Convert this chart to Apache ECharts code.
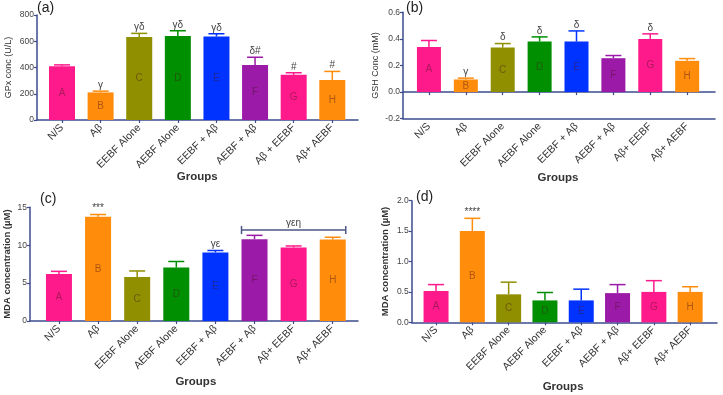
<!DOCTYPE html>
<html>
<head>
<meta charset="utf-8">
<script src="https://cdn.jsdelivr.net/npm/echarts@6/dist/echarts.min.js"></script>
<style>
html, body { margin: 0; padding: 0; background: #fff; }
#main { width: 723px; height: 395px; }
</style>
</head>
<body>
<div id="main"></div>
<script>
// groups on the x axis
var groups = ['N/S', 'Aβ', 'EEBF Alone', 'AEBF Alone', 'EEBF + Aβ', 'AEBF + Aβ', 'Aβ+ EEBF', 'Aβ+ AEBF'];
var groupsA = ['N/S', 'Aβ', 'EEBF Alone', 'AEBF Alone', 'EEBF + Aβ', 'AEBF + Aβ', 'Aβ + EEBF', 'Aβ+ AEBF'];
var barLetters = ['A', 'B', 'C', 'D', 'E', 'F', 'G', 'H'];
var barColors = ['#ff1a8c', '#ff8c0a', '#8f8f00', '#008f00', '#0033ff', '#9b1aa8', '#ff1a8c', '#ff8c0a'];

// (a) GPx
var gpxMean = [410, 210, 632, 640, 636, 420, 344, 305];
var gpxErrTop = [420, 220, 660, 680, 657, 478, 360, 370];
var gpxSig = ['', 'γ', 'γδ', 'γδ', 'γδ', 'δ#', '#', '#'];
var gpxTicks = [0, 800, 200];

// (b) GSH
var gshMean = [0.34, 0.095, 0.335, 0.38, 0.38, 0.255, 0.40, 0.235];
var gshErrTop = [0.388, 0.105, 0.365, 0.415, 0.46, 0.275, 0.438, 0.252];
var gshSig = ['', 'γ', 'δ', 'δ', 'δ', '', 'δ', ''];
var gshTicks = [-0.2, 0.6, 0.2];

// (c) MDA
var mdaMean = [6.2, 13.75, 5.8, 7.05, 9.05, 10.8, 9.7, 10.75];
var mdaErrTop = [6.55, 14.05, 6.6, 7.85, 9.3, 11.3, 9.9, 11.05];
var mdaSig = ['', '***', '', '', 'γε', '', '', ''];
var mdaTicks = [0, 15, 5];
var mdaBracket = [5, 7, 12];   // from group, to group, level
var mdaBracketText = 'γεη';

// (d) MDA
var mda2Mean = [0.515, 1.5, 0.46, 0.36, 0.36, 0.48, 0.5, 0.5];
var mda2ErrTop = [0.62, 1.71, 0.66, 0.49, 0.545, 0.62, 0.685, 0.585];
var mda2Sig = ['', '****', '', '', '', '', '', ''];
var mda2Ticks = [0, 2, 0.5];

var FONT = 'Liberation Sans, Arial, sans-serif';
var AXIS_COLOR = '#3d4b8e';

var myChart = echarts.init(document.getElementById('main'));

var option = {
    backgroundColor: '#fff',
    animation: false,
    title: [],
    grid: [],
    xAxis: [],
    yAxis: [],
    series: []
};

function addPanel(p) {
    option.title.push({
        text: p.label, left: p.labelX, top: p.labelY, padding: 0,
        textStyle: { fontSize: 14, fontWeight: 'normal', color: '#222', fontFamily: FONT }
    });

    // frame grid: full length axis lines, y ticks
    var fg = option.grid.length;
    option.grid.push({ left: p.frameL, width: p.frameR - p.frameL, top: p.top, height: p.height, outerBoundsMode: 'none' });
    // data grid: bars
    var dg = option.grid.length;
    option.grid.push({ left: p.dataL, width: p.dataR - p.dataL, top: p.top, height: p.height, outerBoundsMode: 'none' });

    var lineStyle = { color: AXIS_COLOR, width: 1.5 };

    option.xAxis.push({
        gridIndex: fg, type: 'value', min: 0, max: 1, position: 'bottom',
        axisLine: { show: true, onZero: false, lineStyle: lineStyle },
        axisTick: { show: false }, axisLabel: { show: false }, splitLine: { show: false }
    });
    if (p.zeroLine) {
        option.xAxis.push({
            gridIndex: fg, type: 'value', min: 0, max: 1, position: 'top',
            axisLine: { show: true, onZero: true, lineStyle: lineStyle },
            axisTick: { show: false }, axisLabel: { show: false }, splitLine: { show: false }
        });
    }
    var dx = option.xAxis.length;
    option.xAxis.push({
        gridIndex: dg, type: 'category', data: p.cats,
        axisLine: { show: false },
        axisTick: { show: true, alignWithLabel: true, length: 3, lineStyle: { color: AXIS_COLOR, width: 1.2 } },
        axisLabel: { rotate: 45, interval: 0, fontSize: 10.5, color: '#333', margin: 6, fontFamily: FONT },
        name: 'Groups', nameLocation: 'middle', nameGap: p.groupsGap, nameMoveOverlap: false,
        nameTextStyle: { fontSize: 11.5, fontWeight: 'bold', color: '#333', fontFamily: FONT }
    });

    option.yAxis.push({
        gridIndex: fg, type: 'value', min: p.ticks[0], max: p.ticks[1], interval: p.ticks[2],
        axisLine: { show: true, onZero: false, lineStyle: lineStyle },
        axisTick: { show: true, length: 3, lineStyle: { color: AXIS_COLOR, width: 1.2 } },
        axisLabel: { fontSize: 8.5, color: '#444', margin: 3, fontFamily: FONT, formatter: p.fmt },
        splitLine: { show: false },
        name: p.yName, nameLocation: 'middle', nameGap: p.nameGap,
        nameTextStyle: { fontSize: p.nameSize, fontWeight: p.nameWeight, color: '#333', fontFamily: FONT }
    });
    var dy = option.yAxis.length;
    option.yAxis.push({ gridIndex: dg, type: 'value', min: p.ticks[0], max: p.ticks[1], show: false });

    option.series.push({
        type: 'bar', xAxisIndex: dx, yAxisIndex: dy, barWidth: p.barWidth, silent: true,
        data: p.mean.map(function (v, i) {
            return { value: v, itemStyle: { color: barColors[i] } };
        }),
        label: {
            show: true, position: 'inside', fontSize: 10, fontFamily: FONT,
            color: 'rgba(70,20,30,0.45)',
            formatter: function (d) { return barLetters[d.dataIndex]; }
        }
    });

    var sig = p.sig;
    option.series.push({
        type: 'custom', xAxisIndex: dx, yAxisIndex: dy, silent: true, z: 3,
        encode: { x: 0, y: [1, 2] },
        data: p.mean.map(function (v, i) { return [i, v, p.errTop[i]]; }),
        renderItem: function (params, api) {
            var i = api.value(0);
            var base = api.coord([i, api.value(1)]);
            var top = api.coord([i, api.value(2)]);
            var half = 8;
            var color = barColors[i];
            return {
                type: 'group',
                children: [
                    { type: 'line', shape: { x1: base[0], y1: base[1], x2: top[0], y2: top[1] }, style: { stroke: color, lineWidth: 1.5 } },
                    { type: 'line', shape: { x1: top[0] - half, y1: top[1], x2: top[0] + half, y2: top[1] }, style: { stroke: color, lineWidth: 1.5 } },
                    { type: 'text', x: top[0], y: top[1] - 1, style: { text: sig[params.dataIndex], align: 'center', verticalAlign: 'bottom', fill: '#444', font: '10px ' + FONT } }
                ]
            };
        }
    });

    if (p.bracket) {
        var bw = p.barWidth;
        option.series.push({
            type: 'custom', xAxisIndex: dx, yAxisIndex: dy, silent: true, z: 3,
            encode: { x: [0, 1], y: 2 },
            data: [p.bracket],
            renderItem: function (params, api) {
                var a = api.coord([api.value(0), api.value(2)]);
                var b = api.coord([api.value(1), api.value(2)]);
                var x1 = a[0] - bw / 2, x2 = b[0] + bw / 2, y = a[1];
                var st = { stroke: '#4a5785', lineWidth: 1.5 };
                return {
                    type: 'group',
                    children: [
                        { type: 'line', shape: { x1: x1, y1: y, x2: x2, y2: y }, style: st },
                        { type: 'line', shape: { x1: x1, y1: y - 4, x2: x1, y2: y + 4 }, style: st },
                        { type: 'line', shape: { x1: x2, y1: y - 4, x2: x2, y2: y + 4 }, style: st },
                        { type: 'text', x: (x1 + x2) / 2, y: y - 2, style: { text: p.bracketText, align: 'center', verticalAlign: 'bottom', fill: '#444', font: '10px ' + FONT } }
                    ]
                };
            }
        });
    }
}

addPanel({
    label: '(a)', labelX: 37, labelY: 1,
    frameL: 37, frameR: 358, dataL: 42.7, dataR: 351.6, top: 15, height: 105,
    cats: groupsA, mean: gpxMean, errTop: gpxErrTop, sig: gpxSig, ticks: gpxTicks,
    fmt: function (v) { return String(v); },
    yName: 'GPx conc (U/L)', nameGap: 24, nameSize: 9, nameWeight: 'normal',
    groupsGap: 51, barWidth: 26
});
addPanel({
    label: '(b)', labelX: 406, labelY: 1,
    frameL: 403, frameR: 715, dataL: 410.5, dataR: 705.6, top: 12.3, height: 106.4,
    cats: groups, mean: gshMean, errTop: gshErrTop, sig: gshSig, ticks: gshTicks,
    fmt: function (v) { return v.toFixed(1); }, zeroLine: true,
    yName: 'GSH Conc (mM)', nameGap: 23, nameSize: 9, nameWeight: 'normal',
    groupsGap: 53, barWidth: 24
});
addPanel({
    label: '(c)', labelX: 40, labelY: 192,
    frameL: 30, frameR: 358, dataL: 39.4, dataR: 352.3, top: 207.3, height: 113.7,
    cats: groups, mean: mdaMean, errTop: mdaErrTop, sig: mdaSig, ticks: mdaTicks,
    fmt: function (v) { return String(v); },
    bracket: mdaBracket, bracketText: mdaBracketText,
    yName: 'MDA concentration (µM)', nameGap: 18, nameSize: 9.5, nameWeight: 'bold',
    groupsGap: 55, barWidth: 26
});
addPanel({
    label: '(d)', labelX: 416, labelY: 190,
    frameL: 411.7, frameR: 717, dataL: 417.9, dataR: 708.3, top: 200.7, height: 121.6,
    cats: groups, mean: mda2Mean, errTop: mda2ErrTop, sig: mda2Sig, ticks: mda2Ticks,
    fmt: function (v) { return v.toFixed(1); },
    yName: 'MDA concentration (µM)', nameGap: 21, nameSize: 9.5, nameWeight: 'bold',
    groupsGap: 59, barWidth: 25
});

myChart.setOption(option);
</script>
</body>
</html>
